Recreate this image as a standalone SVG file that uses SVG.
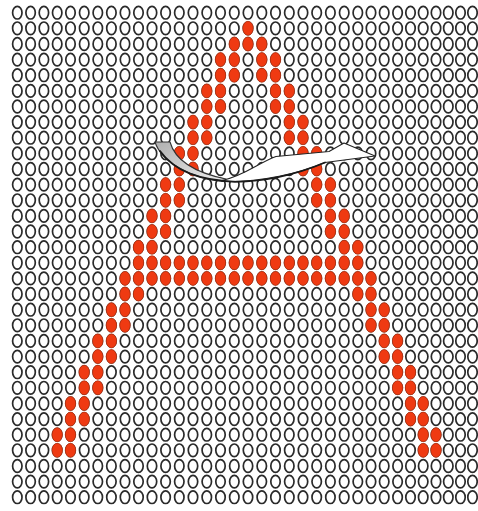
<svg xmlns="http://www.w3.org/2000/svg" width="478" height="511" viewBox="0 0 478 511">
<style>
.o{fill:#fff;stroke:#2a2a2a;stroke-width:1.7}
.r{fill:#ef3a12;stroke:#b8300f;stroke-width:0.7}
</style>
<defs>
<linearGradient id="gg" x1="0" y1="0" x2="1" y2="1">
<stop offset="0" stop-color="#b0b0b0"/>
<stop offset="1" stop-color="#ededed"/>
</linearGradient>
<g id="row">
<ellipse class="o" cx="17.3" cy="0" rx="4.7" ry="6.3"/><ellipse class="o" cx="30.6" cy="0" rx="4.7" ry="6.3"/><ellipse class="o" cx="43.9" cy="0" rx="4.7" ry="6.3"/><ellipse class="o" cx="57.2" cy="0" rx="4.7" ry="6.3"/><ellipse class="o" cx="70.5" cy="0" rx="4.7" ry="6.3"/><ellipse class="o" cx="84.2" cy="0" rx="4.7" ry="6.3"/><ellipse class="o" cx="97.8" cy="0" rx="4.7" ry="6.3"/><ellipse class="o" cx="111.4" cy="0" rx="4.7" ry="6.3"/><ellipse class="o" cx="125" cy="0" rx="4.7" ry="6.3"/><ellipse class="o" cx="138.5" cy="0" rx="4.7" ry="6.3"/><ellipse class="o" cx="152" cy="0" rx="4.7" ry="6.3"/><ellipse class="o" cx="165.6" cy="0" rx="4.7" ry="6.3"/><ellipse class="o" cx="179.3" cy="0" rx="4.7" ry="6.3"/><ellipse class="o" cx="193" cy="0" rx="4.7" ry="6.3"/><ellipse class="o" cx="206.8" cy="0" rx="4.7" ry="6.3"/><ellipse class="o" cx="220.5" cy="0" rx="4.7" ry="6.3"/><ellipse class="o" cx="234.3" cy="0" rx="4.7" ry="6.3"/><ellipse class="o" cx="248" cy="0" rx="4.7" ry="6.3"/><ellipse class="o" cx="261.8" cy="0" rx="4.7" ry="6.3"/><ellipse class="o" cx="275.5" cy="0" rx="4.7" ry="6.3"/><ellipse class="o" cx="289.3" cy="0" rx="4.7" ry="6.3"/><ellipse class="o" cx="303" cy="0" rx="4.7" ry="6.3"/><ellipse class="o" cx="316.7" cy="0" rx="4.7" ry="6.3"/><ellipse class="o" cx="330.4" cy="0" rx="4.7" ry="6.3"/><ellipse class="o" cx="344.2" cy="0" rx="4.7" ry="6.3"/><ellipse class="o" cx="357.8" cy="0" rx="4.7" ry="6.3"/><ellipse class="o" cx="371" cy="0" rx="4.7" ry="6.3"/><ellipse class="o" cx="384.2" cy="0" rx="4.7" ry="6.3"/><ellipse class="o" cx="397.6" cy="0" rx="4.7" ry="6.3"/><ellipse class="o" cx="410.5" cy="0" rx="4.7" ry="6.3"/><ellipse class="o" cx="423.2" cy="0" rx="4.7" ry="6.3"/><ellipse class="o" cx="436" cy="0" rx="4.7" ry="6.3"/><ellipse class="o" cx="448.3" cy="0" rx="4.7" ry="6.3"/><ellipse class="o" cx="460.5" cy="0" rx="4.7" ry="6.3"/><ellipse class="o" cx="472.5" cy="0" rx="4.7" ry="6.3"/>
</g>
<ellipse id="d" class="r" cx="0" cy="0" rx="5.2" ry="7"/>
</defs>
<rect width="478" height="511" fill="#fff"/>
<g id="grid">
<use href="#row" y="12.7"/><use href="#row" y="28.3"/><use href="#row" y="44"/><use href="#row" y="59.6"/><use href="#row" y="75.2"/><use href="#row" y="90.9"/><use href="#row" y="106.5"/><use href="#row" y="122.1"/><use href="#row" y="137.7"/><use href="#row" y="153.4"/><use href="#row" y="169"/><use href="#row" y="184.6"/><use href="#row" y="200.3"/><use href="#row" y="215.9"/><use href="#row" y="231.5"/><use href="#row" y="247.2"/><use href="#row" y="262.8"/><use href="#row" y="278.4"/><use href="#row" y="294"/><use href="#row" y="309.7"/><use href="#row" y="325.3"/><use href="#row" y="340.9"/><use href="#row" y="356.6"/><use href="#row" y="372.2"/><use href="#row" y="387.8"/><use href="#row" y="403.5"/><use href="#row" y="419.1"/><use href="#row" y="434.7"/><use href="#row" y="450.3"/><use href="#row" y="466"/><use href="#row" y="481.6"/><use href="#row" y="497.2"/>
</g>
<g id="letter-A">
<use href="#d" x="248" y="28.3"/>
<use href="#d" x="234.3" y="44"/><use href="#d" x="248" y="44"/><use href="#d" x="261.8" y="44"/>
<use href="#d" x="220.5" y="59.6"/><use href="#d" x="234.3" y="59.6"/><use href="#d" x="261.8" y="59.6"/><use href="#d" x="275.5" y="59.6"/>
<use href="#d" x="220.5" y="75.2"/><use href="#d" x="234.3" y="75.2"/><use href="#d" x="261.8" y="75.2"/><use href="#d" x="275.5" y="75.2"/>
<use href="#d" x="206.8" y="90.9"/><use href="#d" x="220.5" y="90.9"/><use href="#d" x="275.5" y="90.9"/><use href="#d" x="289.3" y="90.9"/>
<use href="#d" x="206.8" y="106.5"/><use href="#d" x="220.5" y="106.5"/><use href="#d" x="275.5" y="106.5"/><use href="#d" x="289.3" y="106.5"/>
<use href="#d" x="193" y="122.1"/><use href="#d" x="206.8" y="122.1"/><use href="#d" x="289.3" y="122.1"/><use href="#d" x="303" y="122.1"/>
<use href="#d" x="193" y="137.7"/><use href="#d" x="206.8" y="137.7"/><use href="#d" x="289.3" y="137.7"/><use href="#d" x="303" y="137.7"/>
<use href="#d" x="179.3" y="153.4"/><use href="#d" x="193" y="153.4"/><use href="#d" x="303" y="153.4"/><use href="#d" x="316.7" y="153.4"/>
<use href="#d" x="179.3" y="169"/><use href="#d" x="193" y="169"/><use href="#d" x="303" y="169"/><use href="#d" x="316.7" y="169"/>
<use href="#d" x="165.6" y="184.6"/><use href="#d" x="179.3" y="184.6"/><use href="#d" x="316.7" y="184.6"/><use href="#d" x="330.4" y="184.6"/>
<use href="#d" x="165.6" y="200.3"/><use href="#d" x="179.3" y="200.3"/><use href="#d" x="316.7" y="200.3"/><use href="#d" x="330.4" y="200.3"/>
<use href="#d" x="152" y="215.9"/><use href="#d" x="165.6" y="215.9"/><use href="#d" x="330.4" y="215.9"/><use href="#d" x="344.2" y="215.9"/>
<use href="#d" x="152" y="231.5"/><use href="#d" x="165.6" y="231.5"/><use href="#d" x="330.4" y="231.5"/><use href="#d" x="344.2" y="231.5"/>
<use href="#d" x="138.5" y="247.2"/><use href="#d" x="152" y="247.2"/><use href="#d" x="344.2" y="247.2"/><use href="#d" x="357.8" y="247.2"/>
<use href="#d" x="138.5" y="262.8"/><use href="#d" x="152" y="262.8"/><use href="#d" x="165.6" y="262.8"/><use href="#d" x="179.3" y="262.8"/><use href="#d" x="193" y="262.8"/><use href="#d" x="206.8" y="262.8"/><use href="#d" x="220.5" y="262.8"/><use href="#d" x="234.3" y="262.8"/><use href="#d" x="248" y="262.8"/><use href="#d" x="261.8" y="262.8"/><use href="#d" x="275.5" y="262.8"/><use href="#d" x="289.3" y="262.8"/><use href="#d" x="303" y="262.8"/><use href="#d" x="316.7" y="262.8"/><use href="#d" x="330.4" y="262.8"/><use href="#d" x="344.2" y="262.8"/><use href="#d" x="357.8" y="262.8"/>
<use href="#d" x="125" y="278.4"/><use href="#d" x="138.5" y="278.4"/><use href="#d" x="152" y="278.4"/><use href="#d" x="165.6" y="278.4"/><use href="#d" x="179.3" y="278.4"/><use href="#d" x="193" y="278.4"/><use href="#d" x="206.8" y="278.4"/><use href="#d" x="220.5" y="278.4"/><use href="#d" x="234.3" y="278.4"/><use href="#d" x="248" y="278.4"/><use href="#d" x="261.8" y="278.4"/><use href="#d" x="275.5" y="278.4"/><use href="#d" x="289.3" y="278.4"/><use href="#d" x="303" y="278.4"/><use href="#d" x="316.7" y="278.4"/><use href="#d" x="330.4" y="278.4"/><use href="#d" x="344.2" y="278.4"/><use href="#d" x="357.8" y="278.4"/><use href="#d" x="371" y="278.4"/>
<use href="#d" x="125" y="294"/><use href="#d" x="138.5" y="294"/><use href="#d" x="357.8" y="294"/><use href="#d" x="371" y="294"/>
<use href="#d" x="111.4" y="309.7"/><use href="#d" x="125" y="309.7"/><use href="#d" x="371" y="309.7"/><use href="#d" x="384.2" y="309.7"/>
<use href="#d" x="111.4" y="325.3"/><use href="#d" x="125" y="325.3"/><use href="#d" x="371" y="325.3"/><use href="#d" x="384.2" y="325.3"/>
<use href="#d" x="97.8" y="340.9"/><use href="#d" x="111.4" y="340.9"/><use href="#d" x="384.2" y="340.9"/><use href="#d" x="397.6" y="340.9"/>
<use href="#d" x="97.8" y="356.6"/><use href="#d" x="111.4" y="356.6"/><use href="#d" x="384.2" y="356.6"/><use href="#d" x="397.6" y="356.6"/>
<use href="#d" x="84.2" y="372.2"/><use href="#d" x="97.8" y="372.2"/><use href="#d" x="397.6" y="372.2"/><use href="#d" x="410.5" y="372.2"/>
<use href="#d" x="84.2" y="387.8"/><use href="#d" x="97.8" y="387.8"/><use href="#d" x="397.6" y="387.8"/><use href="#d" x="410.5" y="387.8"/>
<use href="#d" x="70.5" y="403.5"/><use href="#d" x="84.2" y="403.5"/><use href="#d" x="410.5" y="403.5"/><use href="#d" x="423.2" y="403.5"/>
<use href="#d" x="70.5" y="419.1"/><use href="#d" x="84.2" y="419.1"/><use href="#d" x="410.5" y="419.1"/><use href="#d" x="423.2" y="419.1"/>
<use href="#d" x="57.2" y="434.7"/><use href="#d" x="70.5" y="434.7"/><use href="#d" x="423.2" y="434.7"/><use href="#d" x="436" y="434.7"/>
<use href="#d" x="57.2" y="450.3"/><use href="#d" x="70.5" y="450.3"/><use href="#d" x="423.2" y="450.3"/><use href="#d" x="436" y="450.3"/>
</g>
<g id="arrow">
<path d="M155,142 L170,142 C175,160 192,172 226,179 L226,181.5 C190,179 161,161 155,142 Z" fill="url(#gg)" stroke="#333" stroke-width="1.1" stroke-linejoin="round"/>
<path d="M222,180.5 C244,176 258,163 276,156.5 L329,151.5 L344,143 L375,156 L325,162.5 C300,173 262,182.5 222,181.5 Z" fill="#fff" stroke="#222" stroke-width="1.1" stroke-linejoin="round"/>
<path d="M160,151 C175,172 200,180 235,181.8 C268,181.5 300,173 325,162.5" fill="none" stroke="#1a1a1a" stroke-width="1.8" stroke-linecap="round"/>
</g>
</svg>
